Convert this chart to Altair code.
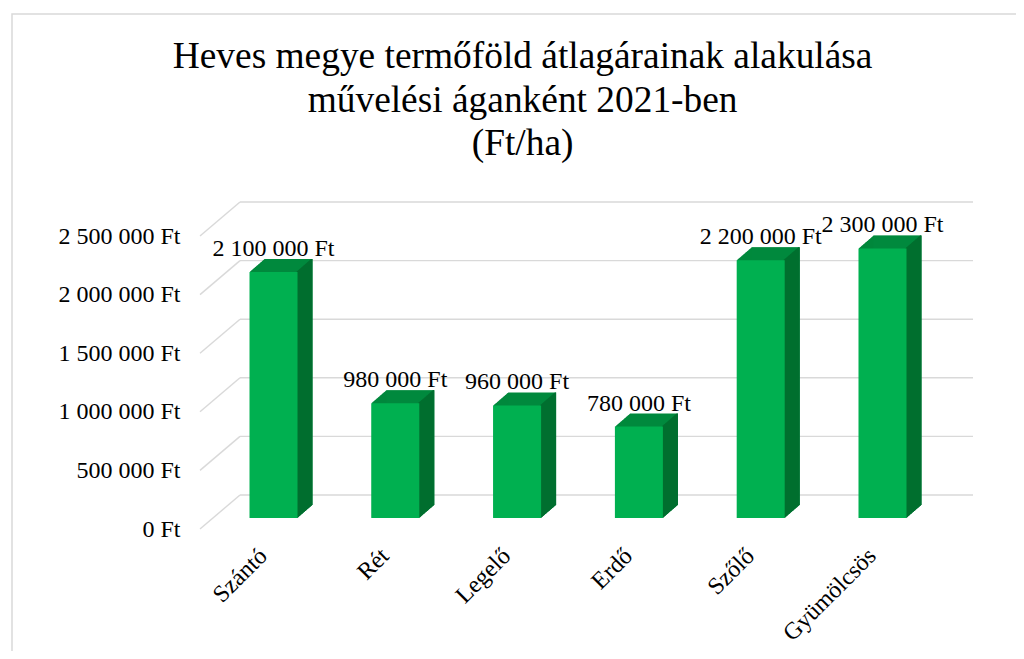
import altair as alt
import pandas as pd

categories = ["Szántó", "Rét", "Legelő", "Erdő", "Szőlő", "Gyümölcsös"]
values = [2100000, 980000, 960000, 780000, 2200000, 2300000]
y_ticks = [0, 500000, 1000000, 1500000, 2000000, 2500000]
title_lines = ["Heves megye termőföld átlagárainak alakulása",
               "művelési áganként 2021-ben",
               "(Ft/ha)"]

FRONT = "#00B050"
TOP = "#00893D"
SIDE = "#006F30"
GRID = "#D9D9D9"
FONT = "Liberation Serif"

df = pd.DataFrame({"cat": categories, "val": values})
grid_df = pd.DataFrame({"val": y_ticks})
one = pd.DataFrame({"a": [0]})

W, H = 756, 293
DEPTH_X, DEPTH_Y = 15, 13
BAR_W = 48

xscale = alt.Scale(domain=categories, paddingOuter=0.1035, paddingInner=0)
yscale = alt.Scale(domain=[0, 2500000], nice=False, zero=True)

fmt = "replace(format(datum.value, ',d'), regexp(',', 'g'), ' ') + ' Ft'"

x_axis = alt.Axis(labelAngle=-45, labelFont=FONT, labelFontSize=24, labelColor="black",
                  domain=False, ticks=False, labelPadding=34, labelAlign="right",
                  labelBaseline="middle", labelOffset=-10, grid=False)
y_axis = alt.Axis(values=y_ticks, labelExpr=fmt, labelFont=FONT, labelFontSize=24,
                  labelColor="black", grid=False, domain=False, ticks=False,
                  labelPadding=20, labelOffset=11)

x_enc = alt.X("cat:N", scale=xscale, sort=categories, axis=x_axis, title=None)
y_enc = alt.Y("val:Q", scale=yscale, axis=y_axis, title=None)

border = alt.Chart(one).mark_rect(fillOpacity=0, stroke=GRID, strokeWidth=1.5).encode(
    x=alt.value(-188), x2=alt.value(821), y=alt.value(-211), y2=alt.value(470)
)

title = alt.Chart(one).mark_text(
    font=FONT, fontSize=37.4, lineBreak="\n", lineHeight=43.5,
    align="center", baseline="alphabetic", color="black"
).encode(x=alt.value(322.6), y=alt.value(-157), text=alt.value("\n".join(title_lines)))

grid = alt.Chart(grid_df).mark_rule(color=GRID, strokeWidth=1.4, yOffset=-23).encode(
    y=y_enc, x=alt.value(40), x2=alt.value(773)
)
diag = alt.Chart(grid_df).mark_rule(color=GRID, strokeWidth=1.4, yOffset=11, y2Offset=-23).encode(
    y=y_enc, y2="val:Q", x=alt.value(0), x2=alt.value(40)
)

layers = [border, title, grid, diag]

steps = [i * 0.5 for i in range(1, 2 * DEPTH_X + 1)]
for k in steps:
    dy = -k * DEPTH_Y / DEPTH_X
    layers.append(
        alt.Chart(df).mark_bar(width=BAR_W, color=TOP, xOffset=k, yOffset=dy, y2Offset=dy)
        .encode(x=x_enc, y=y_enc)
    )
for k in steps:
    dy = -k * DEPTH_Y / DEPTH_X
    layers.append(
        alt.Chart(df).mark_bar(width=1.5, color=SIDE, xOffset=BAR_W / 2 + k - 0.75, yOffset=dy, y2Offset=dy)
        .encode(x=x_enc, y=y_enc)
    )

front = alt.Chart(df).mark_bar(width=BAR_W, color=FRONT).encode(x=x_enc, y=y_enc)
layers.append(front)

labels = alt.Chart(df).transform_calculate(
    lbl="replace(format(datum.val, ',d'), regexp(',', 'g'), ' ') + ' Ft'"
).mark_text(font=FONT, fontSize=24, color="black", baseline="alphabetic", dy=-16).encode(
    x=x_enc, y=y_enc, text="lbl:N"
)
layers.append(labels)

chart = alt.layer(*layers).properties(
    width=W, height=H,
    autosize=alt.AutoSizeParams(type="none"),
    padding={"left": 192, "top": 217, "right": 60, "bottom": 133},
).configure_view(stroke=None)

chart.save("out.html", embed_options={"renderer": "svg", "actions": False})
